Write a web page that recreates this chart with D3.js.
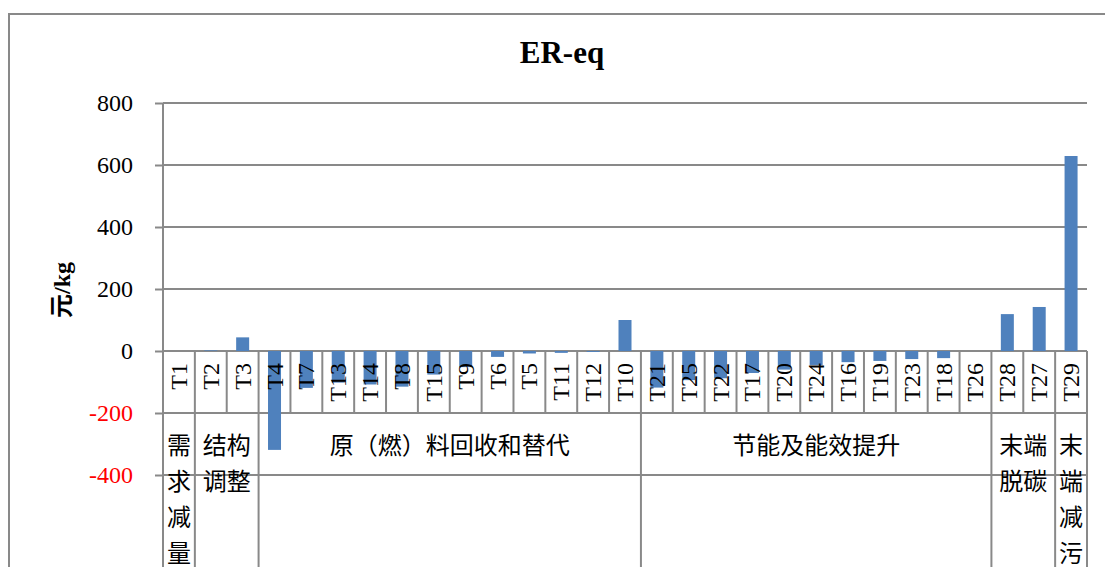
<!DOCTYPE html>
<html>
<head>
<meta charset="utf-8">
<script src="https://cdn.jsdelivr.net/npm/d3@7"></script>
<style>
  body { margin: 0; background: #fff; }
  text { font-family: "Liberation Serif", "Times New Roman", "Noto Sans CJK SC", serif; }
</style>
</head>
<body>
<div id="chart"></div>
<script>
// Data
var categories = ["T1","T2","T3","T4","T7","T13","T14","T8","T15","T9","T6","T5","T11","T12","T10",
  "T21","T25","T22","T17","T20","T24","T16","T19","T23","T18","T26","T28","T27","T29"];
var values = [0, 2, 44, -319, -119, -102, -108, -115, -76, -52, -19, -8, -6, -3, 100,
  -118, -94, -88, -71, -60, -45, -36, -32, -26, -23, 0, 119, 142, 629];
var groupNames = ["需求减量", "结构调整", "原（燃）料回收和替代", "节能及能效提升", "末端脱碳", "末端减污"];
var groupSizes = [1, 2, 12, 11, 2, 1];
var yTicks = [-400, -200, 0, 200, 400, 600, 800];

// Width and height
var w = 1105;
var h = 567;
var left = 163, right = 1087;
var lineColor = "#898989";
var serif = "'Liberation Serif', 'Times New Roman', 'Noto Sans CJK SC', serif";

var svg = d3.select("#chart")
  .append("svg")
  .attr("width", w)
  .attr("height", h);

// outer frame (runs off the picture on the right and bottom)
svg.append("rect")
  .attr("x", 9).attr("y", 14)
  .attr("width", 1120).attr("height", 600)
  .attr("fill", "none")
  .attr("stroke", lineColor)
  .attr("stroke-width", 2);

// Scale functions
var xScale = d3.scaleBand()
  .domain(categories)
  .range([left, right])
  .paddingInner(0)
  .paddingOuter(0);

var yScale = d3.scaleLinear()
  .domain([-400, 800])
  .range([475, 103]);

// Gridlines
svg.append("g")
  .selectAll("line")
  .data(yTicks)
  .enter().append("line")
  .attr("x1", left).attr("x2", right)
  .attr("y1", function(d) { return yScale(d); })
  .attr("y2", function(d) { return yScale(d); })
  .attr("stroke", lineColor)
  .attr("stroke-width", 2);

// Y axis
var yAxis = d3.axisLeft(yScale)
  .tickValues(yTicks)
  .tickSize(8)
  .tickPadding(22)
  .tickFormat(function(d) { return String(d); });

var gy = svg.append("g")
  .attr("transform", "translate(" + left + ",0)")
  .call(yAxis)
  .attr("font-family", null)
  .attr("font-size", null);
gy.select(".domain").remove();
gy.selectAll(".tick line").attr("stroke", lineColor).attr("stroke-width", 2);
gy.selectAll(".tick text")
  .style("font-family", serif)
  .style("font-size", "24px")
  .attr("fill", function(d) { return d < 0 ? "#FF0000" : "#000"; });

// left axis line, down to the bottom of the category table
svg.append("line")
  .attr("x1", left).attr("x2", left)
  .attr("y1", yScale(800)).attr("y2", h + 10)
  .attr("stroke", lineColor)
  .attr("stroke-width", 2);

// Bars
svg.append("g")
  .selectAll("rect")
  .data(values)
  .enter().append("rect")
  .attr("x", function(d, i) { return xScale(categories[i]) + (xScale.bandwidth() - 13) / 2; })
  .attr("width", 13)
  .attr("y", function(d) { return yScale(Math.max(0, d)); })
  .attr("height", function(d) { return Math.abs(yScale(d) - yScale(0)); })
  .attr("fill", "#4F81BD");

// Category table: first row with the T labels
var rowTop = yScale(0), rowMid = yScale(-200);
svg.append("g")
  .selectAll("line")
  .data(categories.concat(["end"]))
  .enter().append("line")
  .attr("x1", function(d, i) { return left + i * xScale.bandwidth(); })
  .attr("x2", function(d, i) { return left + i * xScale.bandwidth(); })
  .attr("y1", rowTop).attr("y2", rowMid)
  .attr("stroke", lineColor)
  .attr("stroke-width", 2);

svg.append("g")
  .selectAll("text")
  .data(categories)
  .enter().append("text")
  .attr("transform", function(d) {
    return "translate(" + (xScale(d) + xScale.bandwidth() / 2 + 8) + "," + (rowTop + 12) + ") rotate(-90)";
  })
  .attr("text-anchor", "end")
  .attr("font-size", 24)
  .text(function(d) { return d; });

// second row: groups
var start = 0;
var groups = groupNames.map(function(name, i) {
  var g = { name: name, x0: left + start * xScale.bandwidth() };
  start += groupSizes[i];
  g.x1 = left + start * xScale.bandwidth();
  return g;
});

svg.append("g")
  .selectAll("line")
  .data(groups)
  .enter().append("line")
  .attr("x1", function(d) { return d.x1; })
  .attr("x2", function(d) { return d.x1; })
  .attr("y1", rowMid).attr("y2", h + 10)
  .attr("stroke", lineColor)
  .attr("stroke-width", 2);

var fs = 24, lineH = 36;
var gtext = svg.append("g")
  .selectAll("text")
  .data(groups)
  .enter().append("text")
  .attr("font-size", fs)
  .attr("text-anchor", "middle");

gtext.each(function(d) {
  var perLine = Math.max(1, Math.floor((d.x1 - d.x0 - 2) / fs));
  var chars = Array.from(d.name);
  var lines = [];
  for (var k = 0; k < chars.length; k += perLine) lines.push(chars.slice(k, k + perLine).join(""));
  d3.select(this).selectAll("tspan")
    .data(lines)
    .enter().append("tspan")
    .attr("x", (d.x0 + d.x1) / 2)
    .attr("y", function(l, j) { return rowMid + 41 + j * lineH; })
    .text(function(l) { return l; });
});

// Title
svg.append("text")
  .attr("x", 562).attr("y", 63)
  .attr("text-anchor", "middle")
  .attr("font-size", 31)
  .attr("font-weight", "bold")
  .text("ER-eq");

// Y axis title
svg.append("text")
  .attr("transform", "translate(70," + 290 + ") rotate(-90)")
  .attr("text-anchor", "middle")
  .attr("font-size", 24)
  .attr("font-weight", "bold")
  .text("元/kg");
</script>
</body>
</html>
